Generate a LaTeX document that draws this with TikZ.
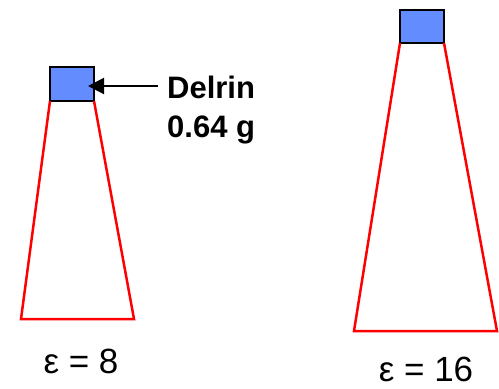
\documentclass[tikz,border=0pt]{standalone}
\usepackage{fontspec}
\setmainfont{Liberation Sans}
\usetikzlibrary{arrows.meta}
\definecolor{delrinblue}{RGB}{99,140,255}
\definecolor{conered}{RGB}{255,0,0}
\begin{document}
\begin{tikzpicture}[x=1pt,y=-1pt,
  block/.style={draw=black, line width=2.5pt, fill=delrinblue, inner sep=0pt, outer sep=0pt, anchor=north west},
  cone/.style={draw=conered, line width=2.5pt, line join=miter},
  eps/.style={font=\fontsize{35}{38}\selectfont, anchor=base, inner sep=0pt},
  lbl/.style={font=\fontsize{31}{39}\bfseries\selectfont, align=left, anchor=north west, inner sep=0pt},
  pointer/.style={line width=2pt, -{Triangle[length=16pt,width=16pt]}}]
\useasboundingbox (0,0) rectangle (499,389);
% left cone
\coordinate (lbl) at (21,319);
\coordinate (lbr) at (134,319);
\node[block, minimum width=44pt, minimum height=34pt] (lblock) at (50,67) {};
\draw[cone] (lblock.south west) -- (lbl) -- (lbr) -- (lblock.south east);
% right cone
\coordinate (rbl) at (354,331);
\coordinate (rbr) at (497,331);
\node[block, minimum width=44pt, minimum height=33pt] (rblock) at (400,10) {};
\draw[cone] (rblock.south west) -- (rbl) -- (rbr) -- (rblock.south east);
% label and arrow
\node[lbl] (delrin) at (167,76) {Delrin\\0.64 g};
\coordinate (arrstart) at (158,86);
\coordinate (arrtip) at (88,86);
\draw[pointer] (arrstart) -- (arrtip);
% epsilon labels
\node[eps] (e8) at (81,373) {ε = 8};
\node[eps] (e16) at (426,381) {ε = 16};
\end{tikzpicture}
\end{document}
